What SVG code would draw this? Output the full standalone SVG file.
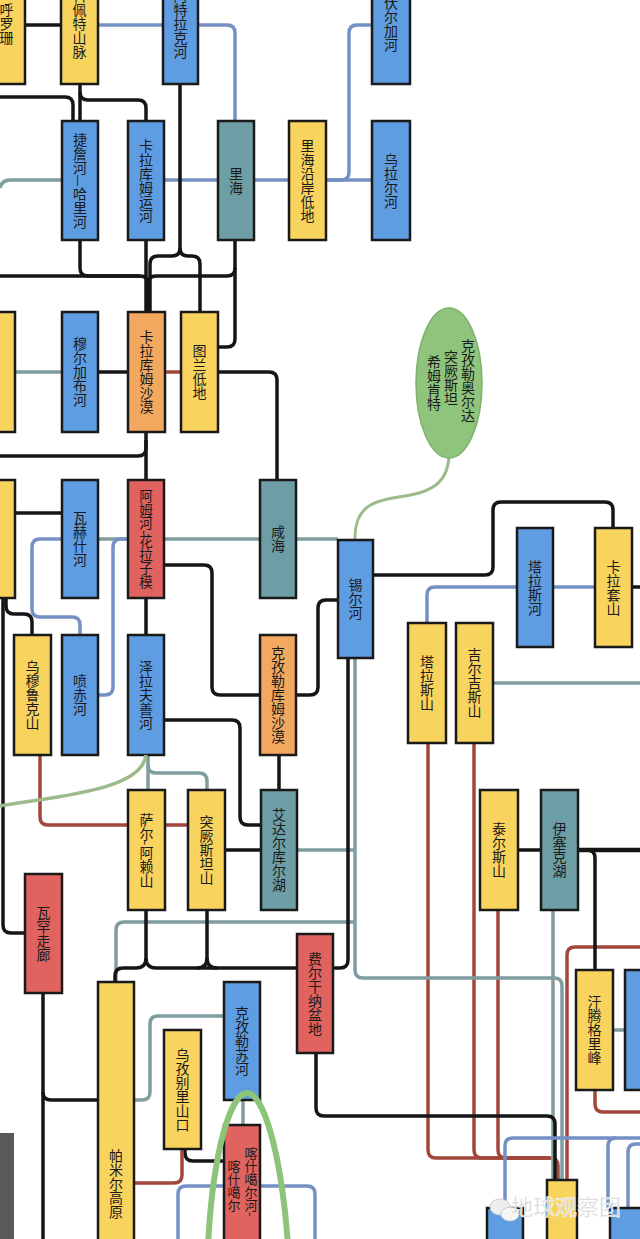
<svg xmlns="http://www.w3.org/2000/svg" width="640" height="1239" viewBox="0 0 640 1239">
<style>
.c path{fill:none;stroke-width:3.5}
.k{stroke:#151515}
.b{stroke:#7590c4}
.t{stroke:#7f9d9e}
.r{stroke:#a3473c}
.g{stroke:#9cba8a}
.y rect,.bl rect,.tl rect,.o rect,.rd rect{stroke:#1a1a1a;stroke-width:2.5}
.y rect{fill:#f8d35e}
.bl rect{fill:#5f9de2}
.tl rect{fill:#6d9ea6}
.o rect{fill:#f3a85f}
.rd rect{fill:#e0635f}
text{font-family:"Noto Sans CJK SC","Noto Sans",sans-serif;font-size:14px;fill:#1a1a1a;writing-mode:vertical-rl;text-anchor:middle}
</style>
<rect x="0" y="0" width="640" height="1239" fill="#ffffff"/>
<g id="connectors" class="c">
<path class="k" d="M25,25 H61"/>
<path class="b" d="M98,25 H163"/>
<path class="b" d="M198,25 H227 Q235,25 235,33 V121"/>
<path class="b" d="M372,25 H357 Q349,25 349,33 V172 Q349,180 341,180 H326"/>
<path class="b" d="M326,180 H372"/>
<path class="b" d="M254,180 H289"/>
<path class="b" d="M164,180 H218"/>
<path class="t" d="M0,188 Q2,180 10,180 H62"/>
<path class="k" d="M80,84 V121"/>
<path class="k" d="M80,92 Q80,100 88,100 H138 Q146,100 146,108 V121"/>
<path class="k" d="M0,97 H65 Q73,97 73,105 V121"/>
<path class="k" d="M180,84 V248 Q180,256 172,256 H158 Q150,256 150,264 V312"/>
<path class="k" d="M180,248 Q180,256 188,256 H192 Q200,256 200,264 V312"/>
<path class="k" d="M80,240 V268 Q80,276 88,276 H140 Q148,276 148,284 V312"/>
<path class="k" d="M0,276 H140"/>
<path class="k" d="M146,240 V312"/>
<path class="k" d="M235,240 V268 Q235,276 227,276 H156 Q148,276 148,284 V312"/>
<path class="k" d="M235,268 V339 Q235,347 227,347 H218"/>
<path class="r" d="M166,372 H181"/>
<path class="t" d="M15,372 H62"/>
<path class="k" d="M98,372 H128"/>
<path class="k" d="M218,372 H269 Q277,372 277,380 V480"/>
<path class="k" d="M146,432 V480"/>
<path class="k" d="M146,440 V448 Q146,456 138,456 H0"/>
<path class="k" d="M15,513 H62"/>
<path class="t" d="M98,539 H128"/>
<path class="t" d="M164,539 H260"/>
<path class="t" d="M296,539 H338"/>
<path class="b" d="M62,539 H40 Q32,539 32,547 V609 Q32,617 40,617 H72 Q80,617 80,625 V635"/>
<path class="b" d="M128,539 H121 Q113,539 113,547 V687 Q113,695 105,695 H98"/>
<path class="k" d="M6,598 V606 Q6,614 14,614 H24 Q32,614 32,622 V635"/>
<path class="k" d="M3,598 V925 Q3,933 11,933 H25"/>
<path class="k" d="M146,598 V635"/>
<path class="k" d="M164,565 H204 Q212,565 212,573 V687 Q212,695 220,695 H260"/>
<path class="k" d="M164,720 H232 Q240,720 240,728 V817 Q240,825 248,825 H261"/>
<path class="k" d="M296,695 H310 Q318,695 318,687 V608 Q318,600 326,600 H338"/>
<path class="k" d="M279,755 V790"/>
<path class="k" d="M373,575 H485 Q493,575 493,567 V510 Q493,502 501,502 H605 Q613,502 613,510 V528"/>
<path class="b" d="M553,587 H595"/>
<path class="b" d="M517,587 H435 Q427,587 427,595 V623"/>
<path class="k" d="M632,587 H640"/>
<path class="t" d="M493,683 H640"/>
<path class="r" d="M428,743 V1150 Q428,1158 436,1158 H550 Q558,1158 558,1166 V1180"/>
<path class="r" d="M474,743 V1150 Q474,1158 482,1158 H550"/>
<path class="r" d="M498,910 V1150 Q498,1158 506,1158 H550"/>
<path class="r" d="M40,755 V817 Q40,825 48,825 H188"/>
<path class="t" d="M148,755 V790"/>
<path class="t" d="M148,765 Q148,773 156,773 H199 Q207,773 207,781 V790"/>
<path class="k" d="M226,850 H261"/>
<path class="t" d="M297,850 H355"/>
<path class="t" d="M355,659 V970 Q355,978 363,978 H554 Q562,978 562,986 V1180"/>
<path class="t" d="M553,910 V1180"/>
<path class="t" d="M355,922 H124 Q116,922 116,930 V982"/>
<path class="k" d="M348,659 V960 Q348,968 340,968 H333"/>
<path class="k" d="M146,910 V958 Q146,968 136,968 H123 Q115,968 115,976 V982"/>
<path class="k" d="M146,958 Q146,968 156,968 H297"/>
<path class="k" d="M207,910 V958 Q207,968 197,968"/>
<path class="k" d="M207,958 Q207,968 217,968"/>
<path class="k" d="M43,993 V1239"/>
<path class="k" d="M43,1092 Q43,1100 51,1100 H98"/>
<path class="t" d="M224,1016 H158 Q150,1016 150,1024 V1092 Q150,1100 142,1100 H134"/>
<path class="t" d="M243,1100 V1125"/>
<path class="k" d="M185,1149 V1153 Q185,1161 193,1161 H224"/>
<path class="r" d="M182,1149 V1175 Q182,1183 174,1183 H134"/>
<path class="b" d="M178,1239 V1194 Q178,1186 186,1186 H307 Q315,1186 315,1194 V1239"/>
<path class="k" d="M316,1053 V1108 Q316,1116 324,1116 H547 Q555,1116 555,1124 V1180"/>
<path class="r" d="M595,1090 V1104 Q595,1112 603,1112 H640"/>
<path class="r" d="M640,947 H575 Q567,947 567,955 V1180"/>
<path class="k" d="M578,850 H640" style="stroke-width:4.5"/>
<path class="k" d="M580,850 H587 Q595,850 595,858 V970"/>
<path class="k" d="M518,850 H541"/>
<path class="t" d="M613,1030 H625"/>
<path class="b" d="M505,1208 V1146 Q505,1138 513,1138 H640"/>
<path class="b" d="M608,1208 V1146 Q608,1138 616,1138"/>
<path class="b" d="M628,1208 V1152 Q628,1144 636,1144 H640"/>
<path class="g" d="M355,540 C354,505 375,500 405,496 C438,491 447,478 449,458" style="stroke-width:3"/>
</g>
<g id="n-huluoshan" class="y"><rect x="-12" y="-36" width="37" height="120"/><text x="6.5" y="24">呼罗珊</text></g>
<g id="n-kopet" class="y"><rect x="61" y="-36" width="37" height="120"/><text x="79.5" y="24">科佩特山脉</text></g>
<g id="n-atrek" class="bl"><rect x="163" y="-36" width="35" height="120"/><text x="180.5" y="24">阿特拉克河</text></g>
<g id="n-volga" class="bl"><rect x="372" y="-36" width="38" height="120"/><text x="391" y="24">伏尔加河</text></g>
<g id="n-tejen" class="bl"><rect x="62" y="121" width="36" height="119"/><text x="80" y="180.5">捷詹河—哈里河</text></g>
<g id="n-karakum-canal" class="bl"><rect x="128" y="121" width="36" height="119"/><text x="146" y="180.5">卡拉库姆运河</text></g>
<g id="n-caspian" class="tl"><rect x="218" y="121" width="36" height="119"/><text x="236" y="180.5">里海</text></g>
<g id="n-caspian-lowland" class="y"><rect x="289" y="121" width="37" height="119"/><text x="307.5" y="180.5">里海沿岸低地</text></g>
<g id="n-ural" class="bl"><rect x="372" y="121" width="38" height="119"/><text x="391" y="180.5">乌拉尔河</text></g>
<g id="n-left3" class="y"><rect x="-20" y="312" width="35" height="120"/></g>
<g id="n-murgab" class="bl"><rect x="62" y="312" width="36" height="120"/><text x="80" y="372">穆尔加布河</text></g>
<g id="n-karakum" class="o"><rect x="128" y="312" width="37" height="120"/><text x="146.5" y="372">卡拉库姆沙漠</text></g>
<g id="n-turan" class="y"><rect x="181" y="312" width="37" height="120"/><text x="199.5" y="372">图兰低地</text></g>
<g id="n-left4" class="y"><rect x="-20" y="480" width="35" height="118"/></g>
<g id="n-vakhsh" class="bl"><rect x="62" y="480" width="36" height="118"/><text x="80" y="539">瓦赫什河</text></g>
<g id="n-amu" class="rd"><rect x="128" y="480" width="36" height="118"/><text x="146" y="539" style="font-size:13.5px">阿姆河-花拉子模</text></g>
<g id="n-aral" class="tl"><rect x="260" y="480" width="36" height="118"/><text x="278" y="539">咸海</text></g>
<g id="n-syr" class="bl"><rect x="338" y="540" width="35" height="118"/><text x="355.5" y="599">锡尔河</text></g>
<g id="n-cities"><ellipse cx="449" cy="383" rx="33" ry="75" fill="#8fc47c" stroke="#7fb06c" stroke-width="1.5"/><text x="468" y="381">克孜勒奥尔达</text><text x="451" y="378">突厥斯坦</text><text x="434" y="383">希姆肯特</text></g>
<g id="n-talas-river" class="bl"><rect x="517" y="528" width="36" height="119"/><text x="535" y="587.5">塔拉斯河</text></g>
<g id="n-karatau" class="y"><rect x="595" y="528" width="37" height="119"/><text x="613.5" y="587.5">卡拉套山</text></g>
<g id="n-umruk" class="y"><rect x="14" y="635" width="37" height="120"/><text x="32.5" y="695">乌穆鲁克山</text></g>
<g id="n-panj" class="bl"><rect x="62" y="635" width="36" height="120"/><text x="80" y="695">喷赤河</text></g>
<g id="n-zeravshan" class="bl"><rect x="128" y="635" width="36" height="120"/><text x="146" y="695">泽拉夫善河</text></g>
<g id="n-kyzylkum" class="o"><rect x="260" y="635" width="36" height="120"/><text x="278" y="695">克孜勒库姆沙漠</text></g>
<g id="n-talas-mt" class="y"><rect x="408" y="623" width="38" height="120"/><text x="427" y="683">塔拉斯山</text></g>
<g id="n-kyrgyz-mt" class="y"><rect x="456" y="623" width="37" height="120"/><text x="474.5" y="683">吉尔吉斯山</text></g>
<g id="n-alai" class="y"><rect x="128" y="790" width="37" height="120"/><text x="146.5" y="850">萨尔-阿赖山</text></g>
<g id="n-turkestan" class="y"><rect x="188" y="790" width="37" height="120"/><text x="206.5" y="850">突厥斯坦山</text></g>
<g id="n-aydar" class="tl"><rect x="261" y="790" width="36" height="120"/><text x="279" y="850">艾达尔库尔湖</text></g>
<g id="n-terskey" class="y"><rect x="480" y="790" width="38" height="120"/><text x="499" y="850">泰尔斯山</text></g>
<g id="n-issyk" class="tl"><rect x="541" y="790" width="37" height="120"/><text x="559.5" y="850">伊塞克湖</text></g>
<g id="n-wakhan" class="rd"><rect x="25" y="874" width="37" height="119"/><text x="43.5" y="933.5">瓦罕走廊</text></g>
<g id="n-fergana" class="rd"><rect x="297" y="934" width="36" height="119"/><text x="315" y="993.5">费尔干纳盆地</text></g>
<g id="n-khan" class="y"><rect x="576" y="970" width="37" height="120"/><text x="594.5" y="1030">汗腾格里峰</text></g>
<g id="n-right-blue" class="bl"><rect x="625" y="970" width="30" height="120"/></g>
<g id="n-pamir" class="y"><rect x="98" y="982" width="36" height="290"/><text x="116" y="1184">帕米尔高原</text></g>
<g id="n-kyzylsu" class="bl"><rect x="224" y="982" width="36" height="118"/><text x="242" y="1041">克孜勒苏河</text></g>
<g id="n-uzbel" class="y"><rect x="164" y="1030" width="37" height="119"/><text x="182.5" y="1089.5">乌孜别里山口</text></g>
<g id="n-kashgar" class="rd"><rect x="224" y="1125" width="36" height="140"/><text x="251" y="1147" style="font-size:13px;text-anchor:start">喀什噶尔河-</text><text x="234" y="1160" style="font-size:13px;text-anchor:start">喀什噶尔</text></g>
<g id="n-bottom-yellow" class="y"><rect x="547" y="1180" width="30" height="80"/></g>
<g id="n-bottom-blue1" class="bl"><rect x="487" y="1208" width="36" height="60"/></g>
<g id="n-bottom-blue2" class="bl"><rect x="610" y="1208" width="40" height="60"/></g>
<g id="overlay">
<path d="M208,1245 C213,1150 231,1093 247,1093 C263,1093 281,1150 288,1245" fill="none" stroke="#8cc47a" stroke-width="6"/>
<path d="M146,755 C142,790 60,796 0,806" fill="none" stroke="#9cba8a" stroke-width="3.5"/>
<rect x="0" y="1133" width="14" height="106" fill="#5a5a5a"/>
<ellipse cx="500" cy="1207" rx="10" ry="8" fill="#eeeeee" stroke="#cccccc" stroke-width="1"/>
<ellipse cx="510" cy="1214" rx="9" ry="7" fill="#f6f6f6" stroke="#cccccc" stroke-width="1"/>
<text x="566" y="1215" style="writing-mode:horizontal-tb;font-size:22px;fill:#d0d0d0;stroke:#ffffff;stroke-width:0.5">地球观察团</text>
</g>
</svg>
